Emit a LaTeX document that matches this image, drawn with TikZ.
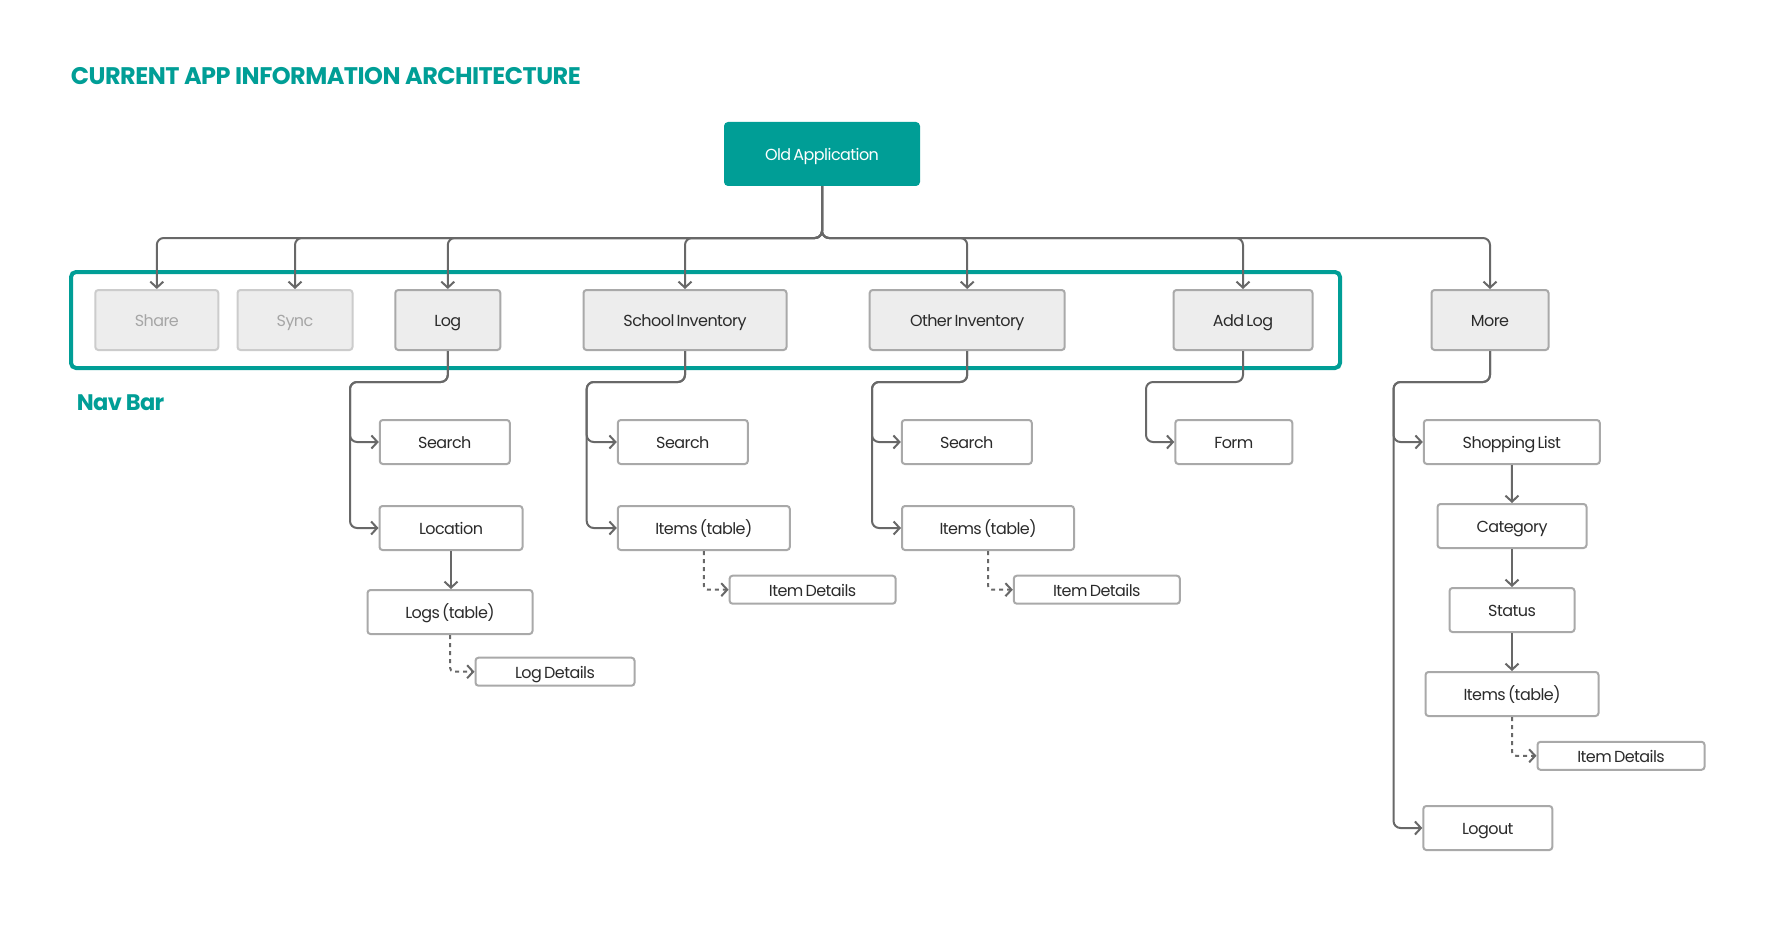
\documentclass[tikz,border=0pt]{standalone}
\usepackage{fontspec}
\setmainfont{Poppins}
\newfontfamily\boxfont{Poppins}[LetterSpace=-3.5, WordSpace=0.6]
\usetikzlibrary{arrows.meta}
\definecolor{teal}{HTML}{009E96}
\definecolor{lin}{HTML}{686868}
\definecolor{bline}{HTML}{A9A9A9}
\definecolor{navfill}{HTML}{EDEDED}
\definecolor{txt}{HTML}{2B2B2B}
\definecolor{dimline}{HTML}{CCCCCC}
\definecolor{dimtxt}{HTML}{A6A6A6}
\tikzset{
  boxtext/.style={font=\boxfont\fontsize{16}{18}\selectfont, text height=13pt, text depth=0pt, inner sep=0pt},
  navbox/.style={boxtext, draw=bline, fill=navfill, line width=2pt, rounded corners=3pt, minimum height=60pt, text=txt},
  dimbox/.style={navbox, draw=dimline, text=dimtxt},
  subbox/.style={boxtext, draw=bline, fill=white, line width=2pt, rounded corners=3pt, minimum height=44pt, text=txt},
  detbox/.style={subbox, minimum height=28pt},
  conn/.style={draw=lin, line width=2pt, rounded corners=7pt, -{Straight Barb[length=6pt,width=13pt]}},
  dconn/.style={conn, dash pattern=on 4pt off 4pt, rounded corners=4pt},
  heading/.style={text=teal, inner sep=0pt, anchor=base west},
}
\begin{document}
\begin{tikzpicture}[x=1pt, y=-1pt]
\useasboundingbox (0,0) rectangle (1782,928);
\fill[white] (0,0) rectangle (1782,928);

\node[heading, font=\fontsize{24}{28}\selectfont\bfseries\addfontfeatures{LetterSpace=-2.2}] (title) at (70.7,84.5) {CURRENT APP INFORMATION ARCHITECTURE};
\node[heading, font=\fontsize{22.5}{26}\selectfont\bfseries\addfontfeatures{LetterSpace=-3}] (navlabel) at (76.7,410.5) {Nav Bar};

% nav bar frame
\draw[teal, line width=4pt, rounded corners=5pt] (71,272) rectangle (1340,368);

% root
\node[boxtext, fill=teal, text=white, rounded corners=4pt, minimum width=196pt, minimum height=64pt] (oa) at (822,154) {Old Application};

% nav items
\node[dimbox, minimum width=123pt] (share) at (156.8,320) {Share};
\node[dimbox, minimum width=115pt] (sync) at (295,320) {Sync};
\node[navbox, minimum width=105pt] (log) at (447.8,320) {Log};
\node[navbox, minimum width=203pt] (school) at (685,320) {School Inventory};
\node[navbox, minimum width=195pt] (other) at (967.2,320) {Other Inventory};
\node[navbox, minimum width=139pt] (addlog) at (1243,320) {Add Log};
\node[navbox, minimum width=117pt] (more) at (1490,320) {More};

% Log column
\node[subbox, minimum width=130pt] (lsearch) at (444.8,442) {Search};
\node[subbox, minimum width=143pt] (lloc) at (451,528) {Location};
\node[subbox, minimum width=165pt] (llogs) at (450,612) {Logs (table)};
\node[detbox, minimum width=159pt] (ldet) at (555,671.7) {Log Details};

% School column
\node[subbox, minimum width=130pt] (ssearch) at (682.8,442) {Search};
\node[subbox, minimum width=172pt] (sitems) at (703.8,528) {Items (table)};
\node[detbox, minimum width=166pt] (sdet) at (812.6,589.7) {Item Details};

% Other column
\node[subbox, minimum width=130pt] (osearch) at (966.8,442) {Search};
\node[subbox, minimum width=172pt] (oitems) at (988,528) {Items (table)};
\node[detbox, minimum width=166pt] (odet) at (1096.8,589.7) {Item Details};

% Add log
\node[subbox, minimum width=117pt] (form) at (1233.8,442) {Form};

% More column
\node[subbox, minimum width=176pt] (shop) at (1511.8,442) {Shopping List};
\node[subbox, minimum width=149pt] (cat) at (1512,526) {Category};
\node[subbox, minimum width=125pt] (status) at (1512,610) {Status};
\node[subbox, minimum width=173pt] (mitems) at (1512,694) {Items (table)};
\node[detbox, minimum width=167pt] (mdet) at (1621,755.8) {Item Details};
\node[subbox, minimum width=129pt] (logout) at (1487.8,828) {Logout};

% bus
\coordinate (bus) at (822,238);
\foreach \n in {share,sync,log,school,other,addlog,more}
  \draw[conn] (oa.south) -- (oa.south |- bus) -| (\n.north);

% branch corners
\coordinate (lgv) at (350,382);
\coordinate (scv) at (586.7,382);
\coordinate (otv) at (872,382);
\coordinate (adv) at (1146,382);
\coordinate (mrv) at (1393.5,382);

\draw[conn] (log.south) |- (lgv) |- (lsearch.west);
\draw[conn] (log.south) |- (lgv) |- (lloc.west);
\draw[conn] (lloc.south) -- (lloc.south |- llogs.north);
\draw[dconn] (llogs.south) |- (ldet.west);

\draw[conn] (school.south) |- (scv) |- (ssearch.west);
\draw[conn] (school.south) |- (scv) |- (sitems.west);
\draw[dconn] (sitems.south) |- (sdet.west);

\draw[conn] (other.south) |- (otv) |- (osearch.west);
\draw[conn] (other.south) |- (otv) |- (oitems.west);
\draw[dconn] (oitems.south) |- (odet.west);

\draw[conn] (addlog.south) |- (adv) |- (form.west);

\draw[conn] (more.south) |- (mrv) |- (shop.west);
\draw[conn] (more.south) |- (mrv) |- (logout.west);
\draw[conn] (shop.south) -- (cat.north);
\draw[conn] (cat.south) -- (status.north);
\draw[conn] (status.south) -- (mitems.north);
\draw[dconn] (mitems.south) |- (mdet.west);
\end{tikzpicture}
\end{document}
